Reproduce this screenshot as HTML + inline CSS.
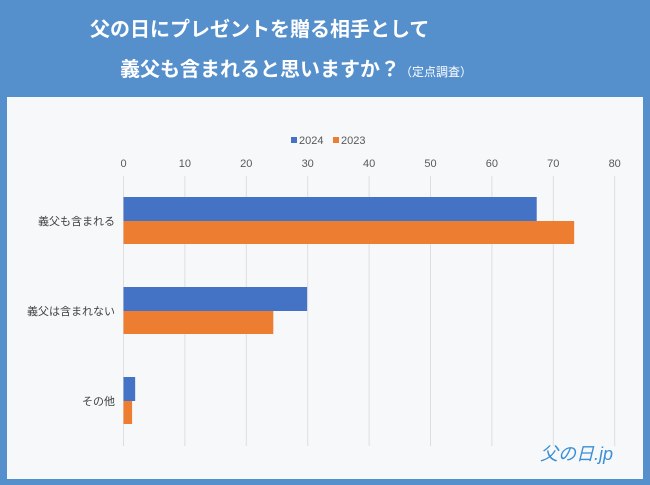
<!DOCTYPE html>
<html><head><meta charset="utf-8"><style>
body{margin:0;width:650px;height:485px;background:#5590cd;font-family:"Liberation Sans","Noto Sans CJK JP",sans-serif;overflow:hidden;position:relative}
.t{position:absolute;color:#fff;font-weight:bold;font-size:20px;white-space:nowrap;line-height:24px}
</style></head><body>
<div class="t" style="left:90px;top:18px">父の日にプレゼントを贈る相手として</div>
<div class="t" style="left:120px;top:58px">義父も含まれると思いますか？<span style="font-size:12px;font-weight:normal">（定点調査）</span></div>
<svg width="650" height="485" style="position:absolute;left:0;top:0">
<rect x="7" y="97" width="636" height="382" fill="#f7f8fa"/>
<g id="g"></g>
<text x="540" y="460" font-size="18" fill="#3a8fd6" font-style="italic" font-family="Liberation Sans, Noto Sans CJK JP, sans-serif">父の日.jp</text>
</svg>
<script>
const categories=["義父も含まれる","義父は含まれない","その他"];
const s2024=[67.3,29.9,1.9];
const s2023=[73.4,24.4,1.4];
const ticks=[0,10,20,30,40,50,60,70,80];
const X=v=>123.5+v*6.14;
const NS="http://www.w3.org/2000/svg",g=document.getElementById('g');
function mk(t,a,txt){const e=document.createElementNS(NS,t);for(const k in a)e.setAttribute(k,a[k]);if(txt!=null)e.textContent=txt;g.appendChild(e);return e;}
ticks.forEach(t=>{
 const l=mk('line',{x1:X(t),x2:X(t),y1:176,y2:446,stroke:'#dedede','stroke-width':1});
 
 
 const tx=mk('text',{x:X(t),y:167,'text-anchor':'middle','font-size':11,fill:'#595959'},t);
 
 
});
categories.forEach((c,i)=>{
 const y0=197+i*90;
 const a=mk('rect',{x:X(0),y:y0,width:X(s2024[i])-X(0),height:24,fill:'#4472c4'});
 
 
 const b=mk('rect',{x:X(0),y:y0+24,width:X(s2023[i])-X(0),height:23,fill:'#ed7d31'});
 
 
 const tx=mk('text',{x:115,y:y0+28,'text-anchor':'end','font-size':11,fill:'#404040'},c);
 
 
});
const l1=mk('rect',{x:291,y:137,width:6,height:6,fill:'#4472c4'});


const l2=mk('text',{x:299,y:144,'font-size':11,fill:'#595959'},'2024');


const l3=mk('rect',{x:333,y:137,width:6,height:6,fill:'#ed7d31'});


const l4=mk('text',{x:341,y:144,'font-size':11,fill:'#595959'},'2023');


</script>
</body></html>
